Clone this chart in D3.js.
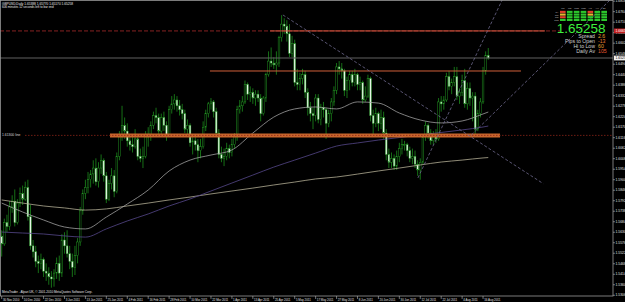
<!DOCTYPE html>
<html><head><meta charset="utf-8">
<script src="https://cdn.jsdelivr.net/npm/d3@7"></script>
<style>html,body{margin:0;padding:0;background:#000;overflow:hidden}svg{display:block}</style>
</head><body><svg id="c" width="625" height="302"></svg>
<script>
const titleText = "GBPUSD,Daily  1.65388 1.65770 1.65170 1.65258";
const timerText = "606 minutes 12 seconds left to bar end";
const footerText = "MetaTrader - Alpari UK, \u00a9 2001-2010 MetaQuotes Software Corp.";
const bandLabel = "1.61300 line";

const opens = [1.5610,1.5570,1.5680,1.5660,1.5760,1.5790,1.5680,1.5780,1.5830,1.5800,1.5860,1.5710,1.5560,1.5530,1.5480,1.5470,1.5490,1.5430,1.5420,1.5400,1.5390,1.5420,1.5470,1.5420,1.5590,1.5560,1.5520,1.5480,1.5450,1.5510,1.5580,1.5740,1.5830,1.5860,1.5900,1.5930,1.5960,1.5890,1.5960,1.6000,1.5920,1.5800,1.5880,1.5920,1.5840,1.6020,1.6120,1.6180,1.6150,1.6100,1.6080,1.6070,1.6110,1.6020,1.6010,1.6020,1.6120,1.6130,1.6180,1.6230,1.6220,1.6150,1.6220,1.6180,1.6130,1.6260,1.6290,1.6310,1.6280,1.6260,1.6240,1.6160,1.6180,1.6090,1.6100,1.6080,1.6050,1.6070,1.6170,1.6240,1.6290,1.6300,1.6250,1.6140,1.6030,1.6010,1.6020,1.6060,1.6040,1.6080,1.6120,1.6260,1.6280,1.6300,1.6390,1.6340,1.6350,1.6320,1.6340,1.6320,1.6240,1.6320,1.6440,1.6510,1.6500,1.6490,1.6500,1.6630,1.6700,1.6690,1.6650,1.6550,1.6600,1.6400,1.6390,1.6420,1.6440,1.6350,1.6270,1.6240,1.6230,1.6320,1.6210,1.6270,1.6260,1.6190,1.6240,1.6300,1.6360,1.6480,1.6470,1.6460,1.6360,1.6410,1.6440,1.6400,1.6440,1.6390,1.6400,1.6310,1.6330,1.6420,1.6230,1.6190,1.6240,1.6190,1.6220,1.6140,1.6030,1.5990,1.6010,1.5970,1.6020,1.6060,1.6080,1.6080,1.6050,1.6010,1.6020,1.5980,1.5950,1.5990,1.6120,1.6180,1.6140,1.6100,1.6120,1.6110,1.6300,1.6290,1.6310,1.6430,1.6380,1.6400,1.6430,1.6330,1.6350,1.6410,1.6290,1.6370,1.6320,1.6330,1.6160,1.6240,1.6300,1.6460,1.65388];
const highs = [1.5640,1.5700,1.5720,1.5790,1.5820,1.5850,1.5800,1.5860,1.5870,1.5890,1.5900,1.5770,1.5590,1.5560,1.5510,1.5520,1.5500,1.5470,1.5450,1.5430,1.5440,1.5500,1.5510,1.5620,1.5630,1.5640,1.5560,1.5520,1.5560,1.5600,1.5760,1.5850,1.5900,1.5940,1.5950,1.6000,1.6010,1.5990,1.6030,1.6010,1.5940,1.5900,1.5960,1.5950,1.6040,1.6150,1.6280,1.6220,1.6190,1.6130,1.6130,1.6160,1.6130,1.6060,1.6070,1.6150,1.6170,1.6200,1.6250,1.6270,1.6240,1.6240,1.6250,1.6200,1.6280,1.6330,1.6340,1.6330,1.6310,1.6290,1.6260,1.6210,1.6190,1.6130,1.6130,1.6110,1.6110,1.6200,1.6260,1.6300,1.6320,1.6310,1.6270,1.6160,1.6070,1.6060,1.6090,1.6080,1.6110,1.6140,1.6280,1.6310,1.6330,1.6410,1.6400,1.6380,1.6370,1.6360,1.6360,1.6340,1.6330,1.6450,1.6560,1.6580,1.6530,1.6560,1.6640,1.6746,1.6730,1.6720,1.6700,1.6640,1.6620,1.6470,1.6450,1.6470,1.6460,1.6370,1.6300,1.6270,1.6340,1.6340,1.6290,1.6300,1.6270,1.6260,1.6320,1.6380,1.6500,1.6510,1.6500,1.6470,1.6430,1.6460,1.6460,1.6470,1.6450,1.6430,1.6410,1.6380,1.6440,1.6430,1.6260,1.6270,1.6250,1.6260,1.6250,1.6160,1.6060,1.6040,1.6030,1.6050,1.6090,1.6110,1.6100,1.6090,1.6070,1.6060,1.6050,1.6000,1.6010,1.6130,1.6200,1.6190,1.6160,1.6150,1.6160,1.6320,1.6330,1.6330,1.6450,1.6460,1.6420,1.6480,1.6480,1.6370,1.6440,1.6470,1.6400,1.6400,1.6350,1.6350,1.6260,1.6320,1.6480,1.6560,1.6577];
const lows = [1.5505,1.5560,1.5630,1.5640,1.5730,1.5660,1.5670,1.5760,1.5770,1.5790,1.5690,1.5540,1.5500,1.5450,1.5420,1.5440,1.5400,1.5380,1.5360,1.5345,1.5350,1.5390,1.5380,1.5400,1.5520,1.5500,1.5440,1.5400,1.5410,1.5470,1.5560,1.5720,1.5800,1.5830,1.5860,1.5880,1.5870,1.5860,1.5930,1.5890,1.5780,1.5790,1.5850,1.5810,1.5830,1.6000,1.6100,1.6110,1.6070,1.6050,1.6040,1.6060,1.6000,1.5990,1.5960,1.6010,1.6070,1.6100,1.6160,1.6190,1.6130,1.6130,1.6150,1.6100,1.6120,1.6240,1.6260,1.6250,1.6230,1.6210,1.6140,1.6130,1.6070,1.6030,1.6050,1.5990,1.6010,1.6060,1.6150,1.6220,1.6260,1.6220,1.6120,1.6010,1.5990,1.5970,1.6000,1.6010,1.6020,1.6060,1.6100,1.6240,1.6250,1.6290,1.6310,1.6300,1.6290,1.6280,1.6300,1.6200,1.6230,1.6300,1.6430,1.6480,1.6470,1.6440,1.6480,1.6610,1.6650,1.6610,1.6530,1.6530,1.6380,1.6360,1.6360,1.6390,1.6320,1.6230,1.6200,1.6160,1.6200,1.6190,1.6180,1.6220,1.6110,1.6170,1.6200,1.6280,1.6340,1.6440,1.6420,1.6330,1.6320,1.6360,1.6380,1.6380,1.6360,1.6360,1.6290,1.6300,1.6320,1.6200,1.6130,1.6170,1.6150,1.6160,1.6110,1.6000,1.5960,1.5960,1.5950,1.5950,1.5990,1.6030,1.6050,1.6020,1.5990,1.5980,1.5960,1.5920,1.5900,1.5980,1.6100,1.6110,1.6080,1.6080,1.6090,1.6100,1.6250,1.6260,1.6300,1.6360,1.6340,1.6380,1.6310,1.6290,1.6330,1.6270,1.6260,1.6280,1.6200,1.6130,1.6150,1.6220,1.6290,1.6440,1.6517];
const closes = [1.5570,1.5680,1.5660,1.5760,1.5790,1.5680,1.5780,1.5830,1.5800,1.5860,1.5710,1.5560,1.5530,1.5480,1.5470,1.5490,1.5430,1.5420,1.5400,1.5390,1.5420,1.5470,1.5420,1.5590,1.5560,1.5520,1.5480,1.5450,1.5510,1.5580,1.5740,1.5830,1.5860,1.5900,1.5930,1.5960,1.5890,1.5960,1.6000,1.5920,1.5800,1.5880,1.5920,1.5840,1.6020,1.6120,1.6180,1.6150,1.6100,1.6080,1.6070,1.6110,1.6020,1.6010,1.6020,1.6120,1.6130,1.6180,1.6230,1.6220,1.6150,1.6220,1.6180,1.6130,1.6260,1.6290,1.6310,1.6280,1.6260,1.6240,1.6160,1.6180,1.6090,1.6100,1.6080,1.6050,1.6070,1.6170,1.6240,1.6290,1.6300,1.6250,1.6140,1.6030,1.6010,1.6020,1.6060,1.6040,1.6080,1.6120,1.6260,1.6280,1.6300,1.6390,1.6340,1.6350,1.6320,1.6340,1.6320,1.6240,1.6320,1.6440,1.6510,1.6500,1.6490,1.6500,1.6630,1.6700,1.6690,1.6650,1.6550,1.6600,1.6400,1.6390,1.6420,1.6440,1.6350,1.6270,1.6240,1.6230,1.6320,1.6210,1.6270,1.6260,1.6190,1.6240,1.6300,1.6360,1.6480,1.6470,1.6460,1.6360,1.6410,1.6440,1.6400,1.6440,1.6390,1.6400,1.6310,1.6330,1.6420,1.6230,1.6190,1.6240,1.6190,1.6220,1.6140,1.6030,1.5990,1.6010,1.5970,1.6020,1.6060,1.6080,1.6080,1.6050,1.6010,1.6020,1.5980,1.5950,1.5990,1.6120,1.6180,1.6140,1.6100,1.6120,1.6110,1.6300,1.6290,1.6310,1.6430,1.6380,1.6400,1.6430,1.6330,1.6350,1.6410,1.6290,1.6370,1.6320,1.6330,1.6160,1.6240,1.6300,1.6460,1.65388,1.65258];

const dateTickBars = [0,8,16,24,32,40,48,56,64,72,80,88,96,104,112,120,128,136,144,152,160,168,176,184];
const dateTickLabels = ["30 Nov 2010","10 Dec 2010","22 Dec 2010","3 Jan 2011","13 Jan 2011","25 Jan 2011","4 Feb 2011","16 Feb 2011","28 Feb 2011","10 Mar 2011","22 Mar 2011","1 Apr 2011","13 Apr 2011","25 Apr 2011","5 May 2011","17 May 2011","27 May 2011","8 Jun 2011","20 Jun 2011","30 Jun 2011","12 Jul 2011","22 Jul 2011","4 Aug 2011","16 Aug 2011"];
const priceTicks = [1.6818,1.6764,1.6710,1.6656,1.6602,1.6548,1.6494,1.6440,1.6386,1.6332,1.6278,1.6224,1.6170,1.6116,1.6062,1.6008,1.5954,1.5900,1.5846,1.5792,1.5738,1.5684,1.5630,1.5576,1.5522,1.5468,1.5414,1.5360,1.5306];

const maBars = [0,8,16,24,32,40,48,56,64,72,80,88,96,104,112,120,128,136,144,152,160,168,176,184,186];
const maFast = [1.5780,1.5734,1.5693,1.5657,1.5647,1.5708,1.5775,1.5847,1.5945,1.6001,1.6027,1.6053,1.6140,1.6222,1.6264,1.6274,1.6264,1.6300,1.6294,1.6243,1.6207,1.6192,1.6202,1.6238,1.6248];
const maSlow = [1.5796,1.5780,1.5765,1.5755,1.5744,1.5750,1.5765,1.5780,1.5796,1.5811,1.5827,1.5842,1.5857,1.5873,1.5888,1.5904,1.5914,1.5929,1.5945,1.5960,1.5976,1.5991,1.6001,1.6012,1.6014];
const maMid = [1.5631,1.5626,1.5621,1.5611,1.5605,1.5647,1.5688,1.5724,1.5765,1.5801,1.5842,1.5883,1.5924,1.5965,1.6001,1.6037,1.6073,1.6089,1.6104,1.6117,1.6130,1.6143,1.6156,1.6171,1.6176];

const bidPrice = 1.65258;
const resistPrice = 1.6665;
const resistSegBars = [102.6, 207.7];
const midLevelPrice = 1.6459;
const midLevelBars = [79.6, 198.5];
const bandPrice = 1.6128;
const bandBars = [41.4, 190.5];
const trendFrom = [[107.5,1.6747],[159.1,1.5909],[179.5,1.6130]];
const trendTo   = [[207.0,1.5880],[191.3,1.6824],[233.0,1.6830]];

const tfLabels = ["M1","M5","M15","M30","H1","H4","D1"];
const rowLabels = ["MA","RSI","CCI","STO"];
const tfStates = [["d","u","u","u","d","u","u"],["n","u","u","u","n","u","u"],["d","u","u","u","u","u","u"],["u","u","u","u","u","u","u"]];
const statLabels = ["Spread","Pips to Open","Hi to Low","Daily Av"];
const statValues = ["2.6","-13","60","105"];

const svg = d3.select("#c");
const W=625, H=302, plotR=613, plotB=296;
const x = d3.scaleLinear().domain([0,186]).range([1.7, 1.7+2.616*186]);
const y = d3.scaleLinear().domain([1.53022,1.68240]).range([plotB,0]);
const font = "'Liberation Sans', Arial, sans-serif";

svg.append("rect").attr("width",W).attr("height",H).attr("fill","#000");
const plot = svg.append("g");
plot.append("clipPath").attr("id","clip").append("rect").attr("x",0).attr("y",0).attr("width",plotR).attr("height",plotB);
const pg = plot.append("g").attr("clip-path","url(#clip)");

// candles
const bars = d3.range(opens.length).map(i=>({i,o:opens[i],h:highs[i],l:lows[i],c:closes[i]}));
pg.selectAll("line.wick").data(bars).join("line").attr("class","wick")
  .attr("x1",d=>x(d.i)).attr("x2",d=>x(d.i)).attr("y1",d=>y(d.h)).attr("y2",d=>y(d.l))
  .attr("stroke","#1c8c1c").attr("stroke-width",0.8);
pg.selectAll("rect.body").data(bars).join("rect").attr("class","body")
  .attr("x",d=>x(d.i)-0.85).attr("width",1.7)
  .attr("y",d=>y(Math.max(d.o,d.c)))
  .attr("height",d=>Math.max(0.6,Math.abs(y(d.o)-y(d.c))))
  .attr("fill",d=>d.c>=d.o?"#000":"#e4f6e4")
  .attr("stroke","#249c24").attr("stroke-width",0.45);

// moving averages
const maLine = arr => d3.line().x((d,k)=>x(maBars[k])).y(d=>y(d)).curve(d3.curveMonotoneX)(arr);
pg.append("path").attr("d",maLine(maSlow)).attr("fill","none").attr("stroke","#bdb89e").attr("stroke-width",0.75);
pg.append("path").attr("d",maLine(maMid)).attr("fill","none").attr("stroke","#55478a").attr("stroke-width",0.8);
pg.append("path").attr("d",maLine(maFast)).attr("fill","none").attr("stroke","#a8a8a8").attr("stroke-width",0.75);

// horizontal objects
pg.append("line").attr("x1",0).attr("x2",plotR).attr("y1",y(bidPrice)).attr("y2",y(bidPrice)).attr("stroke","#606060").attr("stroke-width",1);
pg.append("line").attr("x1",0).attr("x2",560).attr("y1",y(resistPrice)).attr("y2",y(resistPrice)).attr("stroke","#a82a2a").attr("stroke-width",0.8).attr("stroke-dasharray","4,2");
pg.append("line").attr("x1",x(resistSegBars[0])).attr("x2",x(resistSegBars[1])).attr("y1",y(resistPrice)).attr("y2",y(resistPrice)).attr("stroke","#d0553f").attr("stroke-width",1);
pg.append("line").attr("x1",x(midLevelBars[0])).attr("x2",x(midLevelBars[1])).attr("y1",y(midLevelPrice)).attr("y2",y(midLevelPrice)).attr("stroke","#d0603a").attr("stroke-width",1);
pg.append("line").attr("x1",x(bandBars[0])).attr("x2",x(bandBars[1])).attr("y1",y(bandPrice)).attr("y2",y(bandPrice)).attr("stroke","#c8652c").attr("stroke-width",4);
pg.append("line").attr("x1",25).attr("x2",plotR).attr("y1",y(bandPrice)).attr("y2",y(bandPrice)).attr("stroke","#8a2418").attr("stroke-width",0.8).attr("stroke-dasharray","1.5,1.5");
pg.append("text").attr("x",2).attr("y",y(bandPrice)+1).attr("fill","#d8d8d8").attr("font-size",3.4).attr("font-family",font).text(bandLabel);

// trendlines
trendFrom.forEach((f,k)=>{
  pg.append("line").attr("x1",x(f[0])).attr("y1",y(f[1])).attr("x2",x(trendTo[k][0])).attr("y2",y(trendTo[k][1]))
    .attr("stroke","#6e6a8e").attr("stroke-width",0.8).attr("stroke-dasharray","3,2");
});

// frame
svg.append("rect").attr("x",0.5).attr("y",0.5).attr("width",plotR-0.5).attr("height",plotB-0.5).attr("fill","none").attr("stroke","#9a9a9a").attr("stroke-width",0.8);

// y axis
const yAxis = svg.append("g");
yAxis.selectAll("line").data(priceTicks).join("line").attr("x1",plotR).attr("x2",plotR+2).attr("y1",d=>y(d)).attr("y2",d=>y(d)).attr("stroke","#bbb").attr("stroke-width",0.6);
yAxis.selectAll("text").data(priceTicks).join("text").attr("x",plotR+2.5).attr("y",d=>y(d)+1.2).attr("fill","#e0e0e0").attr("font-size",3.4).attr("font-family",font).text(d=>d.toFixed(5));
// price labels
svg.append("rect").attr("x",plotR+1).attr("y",y(resistPrice)-2.4).attr("width",12).attr("height",4.8).attr("fill","#c42020");
svg.append("text").attr("x",plotR+2.5).attr("y",y(resistPrice)+1.2).attr("fill","#fff").attr("font-size",3.4).attr("font-family",font).text(resistPrice.toFixed(5));
svg.append("rect").attr("x",plotR+1).attr("y",y(bidPrice)-2.4).attr("width",12).attr("height",4.8).attr("fill","#f0f0f0");
svg.append("text").attr("x",plotR+2.5).attr("y",y(bidPrice)+1.2).attr("fill","#000").attr("font-size",3.4).attr("font-family",font).text(bidPrice.toFixed(5));

// x axis
const xAxis = svg.append("g");
xAxis.selectAll("line").data(dateTickBars).join("line").attr("x1",d=>x(d)).attr("x2",d=>x(d)).attr("y1",plotB).attr("y2",plotB+3).attr("stroke","#bbb").attr("stroke-width",0.6);
xAxis.selectAll("text").data(dateTickLabels).join("text").attr("x",(d,k)=>x(dateTickBars[k])+1.2).attr("y",300.5).attr("fill","#e0e0e0").attr("font-size",2.9).attr("font-family",font).text(d=>d);

// texts
svg.append("text").attr("x",2).attr("y",4.6).attr("fill","#e8e8e8").attr("font-size",3.2).attr("font-family",font).text(titleText);
svg.append("text").attr("x",2).attr("y",8.4).attr("fill","#e8e8e8").attr("font-size",3.0).attr("font-family",font).text(timerText);
svg.append("text").attr("x",2).attr("y",292.5).attr("fill","#e8e8e8").attr("font-size",3.1).attr("font-family",font).text(footerText);

// info panel
const panel = svg.append("g");
const colX = d3.scaleBand().domain(tfLabels).range([560,607]).paddingInner(0.18);
const rowY = d3.scaleBand().domain(rowLabels).range([10.8,21]).paddingInner(0.2);
const stateColor = {u:"#2cc62c",d:"#e0402a",n:"#e8b830"};
panel.selectAll("text.tf").data(tfLabels).join("text").attr("class","tf").attr("x",d=>colX(d)+colX.bandwidth()/2).attr("y",9.2).attr("text-anchor","middle").attr("fill","#c8c8c8").attr("font-size",2.4).attr("font-family",font).text(d=>d);
panel.selectAll("text.rl").data(rowLabels).join("text").attr("class","rl").attr("x",558.5).attr("y",d=>rowY(d)+rowY.bandwidth()).attr("text-anchor","end").attr("fill","#c8c8c8").attr("font-size",2.1).attr("font-family",font).text(d=>d);
tfStates.forEach((row,r)=>{
  panel.selectAll(null).data(row).join("rect").attr("x",(d,k)=>colX(tfLabels[k])).attr("y",rowY(rowLabels[r])).attr("width",colX.bandwidth()).attr("height",rowY.bandwidth()).attr("fill",d=>stateColor[d]);
});
panel.append("text").attr("x",605.5).attr("y",33.3).attr("text-anchor","end").attr("fill","#3ef03e").attr("font-size",13.5).attr("font-family",font).text(bidPrice.toFixed(5));
const statColors = ["#e8a030","#e87a30","#e8a030","#e85a30"];
statLabels.forEach((s,k)=>{
  panel.append("text").attr("x",595).attr("y",38.2+k*5).attr("text-anchor","end").attr("fill","#cfcfcf").attr("font-size",5.2).attr("font-family",font).text(s);
  panel.append("text").attr("x",598).attr("y",38.2+k*5).attr("fill",statColors[k]).attr("font-size",5.2).attr("font-family",font).text(statValues[k]);
});
</script></body></html>
